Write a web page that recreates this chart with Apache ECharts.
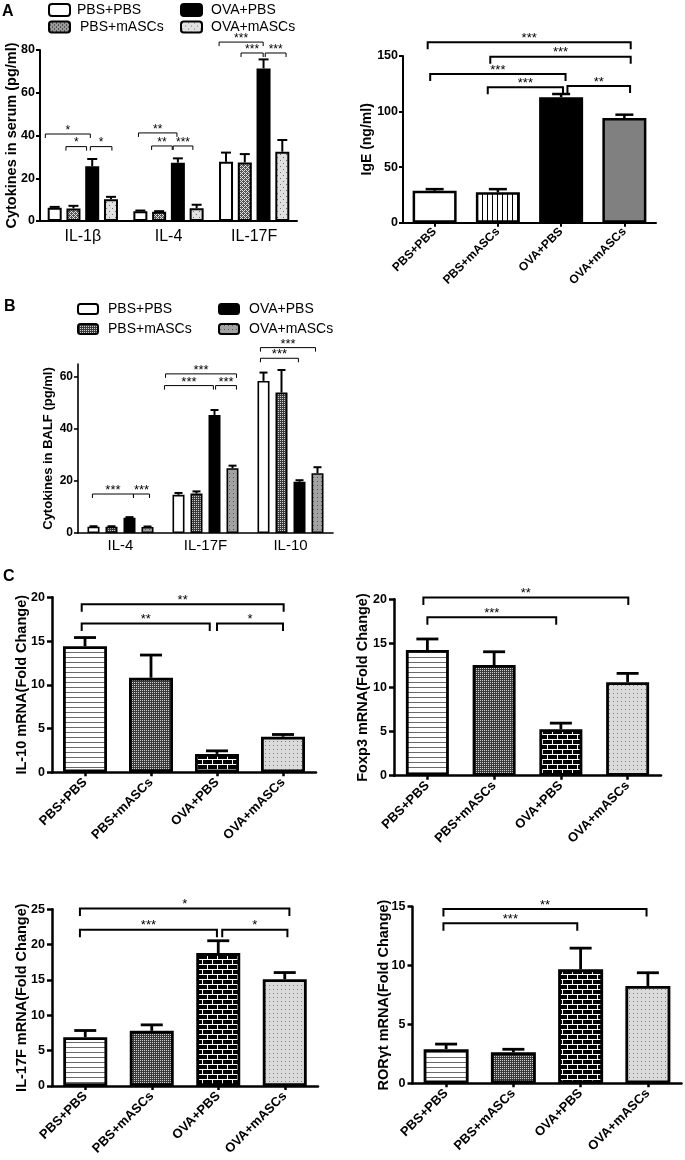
<!DOCTYPE html>
<html><head><meta charset="utf-8">
<script src="https://cdn.jsdelivr.net/npm/echarts@6/dist/echarts.min.js"></script>
<style>html,body{margin:0;padding:0;background:#fff}#c{width:685px;height:1160px}</style>
</head><body><div id="c"></div>
<script>
// ---------------- data ----------------
const groupNames = ['PBS+PBS', 'PBS+mASCs', 'OVA+PBS', 'OVA+mASCs'];

// Panel A (left): cytokines in serum
const serumCats = ['IL-1β', 'IL-4', 'IL-17F'];
const serumPBS_PBS = [6.2, 4.6, 27.7];
const serumPBS_PBSErr = [0.4, 0.3, 4.3];
const serumPBS_mASCs = [5.9, 4.3, 27.4];
const serumPBS_mASCsErr = [1.2, 0.3, 3.9];
const serumOVA_PBS = [25.6, 27.3, 71.4];
const serumOVA_PBSErr = [3.4, 2.0, 4.2];
const serumOVA_mASCs = [10.2, 6.0, 32.4];
const serumOVA_mASCsErr = [1.1, 1.6, 5.5];
const serumTicks = [0, 20, 40, 60, 80];
// [category, from bar pos, to bar pos, y, label]
const serumSig = [
  [0, -0.5, 1.9, 40.7, '*'], [0, 0.6, 1.7, 34.8, '*'], [0, 1.9, 3.05, 34.8, '*'],
  [1, -0.1, 1.95, 41.2, '**'], [1, 0.6, 1.7, 35.1, '**'], [1, 1.75, 2.8, 35.1, '***'],
  [2, -0.37, 1.98, 83.7, '***'], [2, 0.8, 1.98, 78.6, '***'], [2, 2.09, 3.2, 78.6, '***']
];

// Panel A (right): IgE
const igeMean = [28.7, 27.3, 112.9, 94.2];
const igeErr = [1.5, 2.9, 2.9, 3.0];
const igeTicks = [0, 50, 100, 150];
const igeSig = [
  [0, -0.11, 3.1, 162.4, '***'], [0, 0.88, 3.1, 149.4, '***'],
  [0, -0.07, 2.07, 133.8, '***'], [0, 0.84, 2.03, 121.9, '***'], [0, 2.1, 3.09, 123, '**']
];

// Panel B: cytokines in BALF
const balfCats = ['IL-4', 'IL-17F', 'IL-10'];
const balfPBS_PBS = [2.4, 14.7, 58.5];
const balfPBS_PBSErr = [0.2, 0.7, 3.2];
const balfPBS_mASCs = [2.4, 15.2, 54.0];
const balfPBS_mASCsErr = [0.2, 0.8, 8.7];
const balfOVA_PBS = [5.9, 45.4, 19.7];
const balfOVA_PBSErr = [0.2, 1.9, 0.6];
const balfOVA_mASCs = [2.3, 24.9, 23.0];
const balfOVA_mASCsErr = [0.2, 1.0, 2.3];
const balfTicks = [0, 20, 40, 60];
const balfAxisTop = 65;
const balfSig = [
  [0, -0.06, 2.22, 15, '***'], [0, 2.22, 3.11, 15, '***'],
  [1, -0.72, 3.22, 61.2, '***'], [1, -0.78, 1.94, 56.7, '***'], [1, 2.06, 3.22, 56.7, '***'],
  [2, -0.17, 2.89, 71.3, '***'], [2, -0.17, 1.94, 67.2, '***']
];

// Panel C: mRNA fold change
const il10Mean = [14.4, 10.8, 2.1, 4.07];
const il10Err = [1.0, 2.6, 0.35, 0.25];
const il10Ticks = [0, 5, 10, 15, 20];
const il10Sig = [[0, -0.05, 3.01, 19.2, '**'], [0, -0.05, 1.89, 17.0, '**'], [0, 2.0, 3.0, 17.0, '*']];

const foxp3Mean = [14.25, 12.55, 5.26, 10.6];
const foxp3Err = [1.25, 1.5, 0.7, 1.0];
const foxp3Ticks = [0, 5, 10, 15, 20];
const foxp3Sig = [[0, -0.06, 3.01, 20.2, '**'], [0, 0.0, 1.93, 17.96, '***']];

const il17fMean = [6.9, 7.8, 18.8, 15.1];
const il17fErr = [0.95, 0.85, 1.75, 0.95];
const il17fTicks = [0, 5, 10, 15, 20, 25];
const il17fSig = [[0, -0.08, 3.07, 25.1, '*'], [0, -0.08, 1.98, 22.1, '***'], [0, 2.06, 3.04, 22.1, '*']];

const rorMean = [2.9, 2.63, 9.68, 8.26];
const rorErr = [0.43, 0.26, 1.8, 1.13];
const rorTicks = [0, 5, 10, 15];
const rorSig = [[0, -0.04, 2.98, 14.8, '**'], [0, -0.04, 1.95, 13.6, '***']];

// ---------------- patterns ----------------
function pat(w, h, draw) {
  const c = document.createElement('canvas'); c.width = w; c.height = h;
  const g = c.getContext('2d'); draw(g); return { image: c, repeat: 'repeat' };
}
const pHLines = pat(4, 5, g => { g.fillStyle = '#fff'; g.fillRect(0, 0, 4, 5); g.fillStyle = '#6a6a6a'; g.fillRect(0, 2, 4, 1); });
const pCheck = pat(4, 4, g => { g.fillStyle = '#3a3a3a'; g.fillRect(0, 0, 4, 4); g.fillStyle = '#d0d0d0';
  g.fillRect(0, 0, 1, 1); g.fillRect(2, 0, 1, 1); g.fillRect(0, 2, 1, 1); g.fillRect(2, 2, 1, 1); });
const pCheckA = pat(4, 4, g => { g.fillStyle = '#555'; g.fillRect(0, 0, 4, 4); g.fillStyle = '#e0e0e0';
  g.fillRect(0, 0, 1, 1); g.fillRect(2, 0, 1, 1); g.fillRect(0, 2, 1, 1); g.fillRect(2, 2, 1, 1); g.fillRect(1,1,1,1); g.fillRect(3,3,1,1);});
const pBrick = pat(10, 10, g => { g.fillStyle = '#000'; g.fillRect(0, 0, 10, 10); g.fillStyle = '#fff';
  g.fillRect(0, 4, 10, 1); g.fillRect(0, 9, 10, 1); g.fillRect(2, 0, 1, 4); g.fillRect(7, 5, 1, 4); });
const pDotsLight = pat(4, 4, g => { g.fillStyle = '#dadada'; g.fillRect(0, 0, 4, 4); g.fillStyle = '#808080'; g.fillRect(1, 1, 1, 1); });
const pDotsA = pat(6, 6, g => { g.fillStyle = '#e0e0e0'; g.fillRect(0, 0, 6, 6); g.fillStyle = '#707070'; g.fillRect(1, 1, 1, 1); g.fillRect(4, 4, 1, 1); });
const pDotsMid = pat(4, 4, g => { g.fillStyle = '#a2a2a2'; g.fillRect(0, 0, 4, 4); g.fillStyle = '#555'; g.fillRect(1, 1, 1, 1); });
const pVLines = pat(5, 2, g => { g.fillStyle = '#fff'; g.fillRect(0, 0, 5, 2); g.fillStyle = '#000'; g.fillRect(2, 0, 1, 2); });

const FONT = 'Liberation Sans, Arial, sans-serif';

// ---------------- helpers ----------------
const grids = [
  { left: 40, top: 50, width: 257, height: 171 },        // 0 serum
  { left: 403, top: 56, width: 253, height: 166.7 },     // 1 IgE
  { left: 78, top: 364, width: 255, height: 169 },       // 2 BALF
  { left: 52, top: 597.3, width: 264, height: 175 },     // 3 IL-10
  { left: 394, top: 599.3, width: 267, height: 176.4 },  // 4 Foxp3
  { left: 52, top: 909.3, width: 266, height: 176.7 },   // 5 IL-17F
  { left: 412.5, top: 906.7, width: 269, height: 176.6 } // 6 RORgt
].map(g => Object.assign({ containLabel: false, outerBoundsMode: 'none' }, g));

function yAxis(gi, ticks, name, o) {
  const lw = o.lw || 2;
  return {
    type: 'value', gridIndex: gi, min: ticks[0], max: o.max !== undefined ? o.max : ticks[ticks.length - 1],
    interval: ticks[1] - ticks[0],
    name: name, nameLocation: 'middle', nameRotate: 90, nameGap: o.nameGap, nameMoveOverlap: false,
    nameTextStyle: { fontFamily: FONT, fontWeight: 'bold', fontSize: o.nameSize, color: '#000' },
    axisLine: { show: true, lineStyle: { color: '#000', width: lw } },
    axisTick: { show: true, length: o.tickLen || 4, lineStyle: { color: '#000', width: lw }, customValues: ticks },
    axisLabel: { fontFamily: FONT, fontWeight: 'bold', fontSize: o.labelSize, color: '#000', margin: o.labelMargin || 5, customValues: ticks },
    splitLine: { show: false }
  };
}
function xAxis(gi, cats, o) {
  const lw = o.lw || 2;
  return {
    type: 'category', gridIndex: gi, data: cats,
    axisLine: { show: true, onZero: false, lineStyle: { color: '#000', width: lw } },
    axisTick: { show: !!o.ticks, alignWithLabel: true, length: 4, lineStyle: { color: '#000', width: lw } },
    axisLabel: { fontFamily: FONT, fontWeight: o.bold ? 'bold' : 'normal', fontSize: o.labelSize, color: '#000',
      rotate: o.rotate || 0, interval: 0, margin: o.margin || 8 },
    splitLine: { show: false }
  };
}

// error bars (upper only)
function errSeries(gi, rows, xOf, capW, lw) {
  return {
    type: 'custom', xAxisIndex: gi, yAxisIndex: gi, z: 5, silent: true,
    encode: { x: 0, y: 2 },
    data: rows,
    renderItem: function (params, api) {
      const cat = api.value(0), s = api.value(1), v = api.value(2), e = api.value(3);
      const p0 = api.coord([cat, v]), p1 = api.coord([cat, v + e]);
      const x = xOf(api, cat, s, p0[0]);
      return { type: 'group', children: [
        { type: 'line', shape: { x1: x, y1: p0[1], x2: x, y2: p1[1] }, style: { stroke: '#000', lineWidth: lw } },
        { type: 'line', shape: { x1: x - capW / 2, y1: p1[1], x2: x + capW / 2, y2: p1[1] }, style: { stroke: '#000', lineWidth: lw } }
      ] };
    }
  };
}
// significance brackets
function sigSeries(gi, sig, xOf, tick, lw, fs, starDy) {
  return {
    type: 'custom', xAxisIndex: gi, yAxisIndex: gi, z: 6, silent: true, clip: false,
    encode: { x: 0, y: 3 },
    data: sig.map(r => [r[0], r[1], r[2], r[3]]),
    renderItem: function (params, api) {
      const cat = api.value(0), a = api.value(1), b = api.value(2), y = api.value(3);
      const p = api.coord([cat, y]);
      const x1 = xOf(api, cat, a, p[0]), x2 = xOf(api, cat, b, p[0]);
      return { type: 'group', children: [
        { type: 'polyline', shape: { points: [[x1, p[1] + tick], [x1, p[1]], [x2, p[1]], [x2, p[1] + tick]] },
          style: { stroke: '#000', lineWidth: lw, fill: null } },
        { type: 'text', x: (x1 + x2) / 2, y: p[1] - starDy,
          style: { text: sig[params.dataIndex][4], fill: '#000', fontSize: fs, fontFamily: FONT, align: 'center', verticalAlign: 'middle' } }
      ] };
    }
  };
}
function groupedX(bw, gap) { return (api, cat, pos, cx) => cx + (pos - 1.5) * bw * (1 + gap); }
function singleX() { return (api, cat, pos, cx) => cx + pos * api.size([1, 0])[0]; }

function rowsGrouped(means, errs) {
  const rows = [];
  means.forEach((m, s) => m.forEach((v, c) => rows.push([c, s, v, errs[s][c]])));
  return rows;
}
function rowsSingle(mean, err) { return mean.map((v, c) => [c, 0, v, err[c]]); }

// ---------------- series ----------------
const series = [];
const xAxes = [], yAxes = [];

// Panel A left
const serumMeans = [serumPBS_PBS, serumPBS_mASCs, serumOVA_PBS, serumOVA_mASCs];
const serumErrs = [serumPBS_PBSErr, serumPBS_mASCsErr, serumOVA_PBSErr, serumOVA_mASCsErr];
const serumFills = ['#fff', pCheckA, '#000', pDotsA];
const bwA = 14, gapA = 0.34;
serumMeans.forEach((m, s) => series.push({
  type: 'bar', name: 'A|' + groupNames[s], xAxisIndex: 0, yAxisIndex: 0, data: m, barWidth: bwA, barGap: (gapA * 100) + '%',
  itemStyle: { color: serumFills[s], borderColor: '#000', borderWidth: 2 }, emphasis: { disabled: true }
}));
series.push(errSeries(0, rowsGrouped(serumMeans, serumErrs), groupedX(bwA, gapA), 10, 2));
series.push(sigSeries(0, serumSig, groupedX(bwA, gapA), 4, 1, 12, 3.5));
xAxes.push(xAxis(0, serumCats, { labelSize: 16, margin: 8 }));
yAxes.push(yAxis(0, serumTicks, 'Cytokines in serum (pg/ml)', { nameGap: 21, nameSize: 14.5, labelSize: 12.5 }));

// Panel A right (IgE)
const igeFills = ['#fff', pVLines, '#000', '#808080'];
series.push({
  type: 'bar', name: 'IgE', xAxisIndex: 1, yAxisIndex: 1, barWidth: 44,
  data: igeMean.map((v, i) => ({ value: v, itemStyle: { color: igeFills[i] } })),
  itemStyle: { borderColor: '#000', borderWidth: 2.5 }, emphasis: { disabled: true }
});
series.push(errSeries(1, rowsSingle(igeMean, igeErr), singleX(), 18, 2.5));
series.push(sigSeries(1, igeSig, singleX(), 7, 2, 13, 4));
xAxes.push(xAxis(1, groupNames, { labelSize: 12, bold: true, rotate: 45, ticks: true, margin: 7, lw: 2 }));
yAxes.push(yAxis(1, igeTicks, 'IgE (ng/ml)', { nameGap: 29, nameSize: 14, labelSize: 12.5 }));

// Panel B
const balfMeans = [balfPBS_PBS, balfPBS_mASCs, balfOVA_PBS, balfOVA_mASCs];
const balfErrs = [balfPBS_PBSErr, balfPBS_mASCsErr, balfOVA_PBSErr, balfOVA_mASCsErr];
const balfFills = ['#fff', pCheck, '#000', pDotsMid];
const bwB = 12, gapB = 0.5;
balfMeans.forEach((m, s) => series.push({
  type: 'bar', name: 'B|' + groupNames[s], xAxisIndex: 2, yAxisIndex: 2, data: m, barWidth: bwB, barGap: (gapB * 100) + '%',
  itemStyle: { color: balfFills[s], borderColor: '#000', borderWidth: 1.6 }, emphasis: { disabled: true }
}));
series.push(errSeries(2, rowsGrouped(balfMeans, balfErrs), groupedX(bwB, gapB), 8, 2));
series.push(sigSeries(2, balfSig, groupedX(bwB, gapB), 4, 1, 13, 3.5));
xAxes.push(xAxis(2, balfCats, { labelSize: 15, margin: 5, lw: 1.6 }));
yAxes.push(yAxis(2, balfTicks, 'Cytokines in BALF (pg/ml)', { max: balfAxisTop, nameGap: 23, nameSize: 13, labelSize: 12, lw: 1.6 }));

// Panel C
const cFills = [pHLines, pCheck, pBrick, pDotsLight];
const cPanels = [
  { gi: 3, mean: il10Mean, err: il10Err, ticks: il10Ticks, sig: il10Sig, name: 'IL-10 mRNA(Fold Change)', bw: 44, gap: 23 },
  { gi: 4, mean: foxp3Mean, err: foxp3Err, ticks: foxp3Ticks, sig: foxp3Sig, name: 'Foxp3 mRNA(Fold Change)', bw: 43, gap: 24 },
  { gi: 5, mean: il17fMean, err: il17fErr, ticks: il17fTicks, sig: il17fSig, name: 'IL-17F mRNA(Fold Change)', bw: 44, gap: 23 },
  { gi: 6, mean: rorMean, err: rorErr, ticks: rorTicks, sig: rorSig, name: 'RORγt mRNA(Fold Change)', bw: 45, gap: 21 }
];
cPanels.forEach(p => {
  series.push({
    type: 'bar', name: p.name, xAxisIndex: p.gi, yAxisIndex: p.gi, barWidth: p.bw,
    data: p.mean.map((v, i) => ({ value: v, itemStyle: { color: cFills[i] } })),
    itemStyle: { borderColor: '#000', borderWidth: 2.8 }, emphasis: { disabled: true }
  });
  series.push(errSeries(p.gi, rowsSingle(p.mean, p.err), singleX(), 22, 2.8));
  series.push(sigSeries(p.gi, p.sig, singleX(), 7.5, 2, 13, 4));
  xAxes.push(xAxis(p.gi, groupNames, { labelSize: 13, bold: true, rotate: 45, ticks: true, margin: 8, lw: 2.5 }));
  yAxes.push(yAxis(p.gi, p.ticks, p.name, { nameGap: p.gap, nameSize: 14.5, labelSize: 12.5, lw: 2.5, tickLen: 5, labelMargin: 7 }));
});

// ---------------- legends ----------------
function leg(name, left, top, w, h, pad) {
  return {
    data: [name], left: left, top: top, padding: 0, itemWidth: w, itemHeight: h, icon: 'roundRect',
    selectedMode: false, formatter: n => n.split('|')[1],
    itemStyle: { borderColor: '#000', borderWidth: 2 },
    textStyle: { fontFamily: FONT, fontSize: 14, color: '#000', lineHeight: 14, padding: [0, 0, 0, pad] }
  };
}
const legends = [
  leg('A|PBS+PBS', 48, 3, 21, 12, 2), leg('A|OVA+PBS', 180, 3, 21, 12, 4),
  leg('A|PBS+mASCs', 48, 20, 21, 11, 5), leg('A|OVA+mASCs', 180, 20, 21, 11, 4),
  leg('B|PBS+PBS', 77, 302, 20, 10, 5), leg('B|OVA+PBS', 218, 302, 20, 10, 5),
  leg('B|PBS+mASCs', 77, 322, 20, 10, 5), leg('B|OVA+mASCs', 218, 322, 20, 10, 5)
];

const titles = [
  { text: 'A', left: 2, top: 4 }, { text: 'B', left: 4, top: 299 }, { text: 'C', left: 3, top: 569 }
].map(t => Object.assign({ padding: 0, textStyle: { fontFamily: FONT, fontSize: 16, fontWeight: 'bold', color: '#000' } }, t));

const chart = echarts.init(document.getElementById('c'), null, { renderer: 'canvas' });
chart.setOption({
  animation: false,
  backgroundColor: '#fff',
  textStyle: { fontFamily: FONT },
  title: titles,
  legend: legends,
  grid: grids,
  xAxis: xAxes,
  yAxis: yAxes,
  series: series
});
</script>
</body></html>
